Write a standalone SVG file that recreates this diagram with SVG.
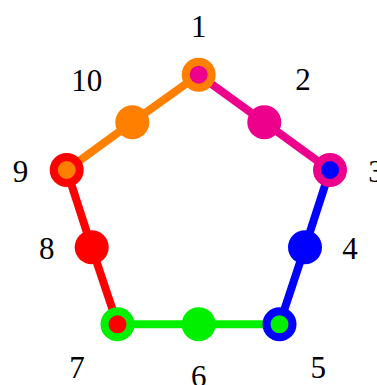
<svg xmlns="http://www.w3.org/2000/svg" width="377" height="385" viewBox="0 0 377 385">
<style>
.e{fill:none;stroke-width:8;stroke-linecap:butt}
.v{stroke-width:8}
.m{stroke:none}
.lbl{font-family:"Liberation Serif","Times New Roman",serif;font-size:31px;fill:#000;text-anchor:middle}
</style>
<rect width="377" height="385" fill="#fff"/>
<g id="connectors">
<polyline class="e" stroke="#EC008C" points="198.7,74.7 264.3,122.3 330,170"/>
<polyline class="e" stroke="#0000FF" points="330,170 305,247.3 279.5,324.3"/>
<polyline class="e" stroke="#00F000" points="279.5,324.3 198.7,324.3 117.5,324.3"/>
<polyline class="e" stroke="#FF0000" points="117.5,324.3 91.7,247.3 66.7,170"/>
<polyline class="e" stroke="#FF8000" points="66.7,170 132.3,122.3 198.7,74.7"/>
</g>
<g id="n1"><circle class="v" cx="198.7" cy="74.7" r="13" fill="#EC008C" stroke="#FF8000"/><text class="lbl" x="198.7" y="36.7">1</text></g>
<g id="n2"><circle class="m" cx="264.3" cy="122.3" r="17" fill="#EC008C"/><text class="lbl" x="303" y="90">2</text></g>
<g id="n3"><circle class="v" cx="330" cy="170" r="13" fill="#0000FF" stroke="#EC008C"/><text class="lbl" x="376" y="181.7">3</text></g>
<g id="n4"><circle class="m" cx="305" cy="247.3" r="17" fill="#0000FF"/><text class="lbl" x="350" y="258.5">4</text></g>
<g id="n5"><circle class="v" cx="279.5" cy="324.3" r="13" fill="#00F000" stroke="#0000FF"/><text class="lbl" x="318.3" y="378.3">5</text></g>
<g id="n6"><circle class="m" cx="198.7" cy="324.3" r="17" fill="#00F000"/><text class="lbl" x="198.7" y="387">6</text></g>
<g id="n7"><circle class="v" cx="117.5" cy="324.3" r="13" fill="#FF0000" stroke="#00F000"/><text class="lbl" x="77" y="378">7</text></g>
<g id="n8"><circle class="m" cx="91.7" cy="247.3" r="17" fill="#FF0000"/><text class="lbl" x="46.7" y="258.5">8</text></g>
<g id="n9"><circle class="v" cx="66.7" cy="170" r="13" fill="#FF8000" stroke="#FF0000"/><text class="lbl" x="20.5" y="181.7">9</text></g>
<g id="n10"><circle class="m" cx="132.3" cy="122.3" r="17" fill="#FF8000"/><text class="lbl" x="86.7" y="90.7">10</text></g>
</svg>
